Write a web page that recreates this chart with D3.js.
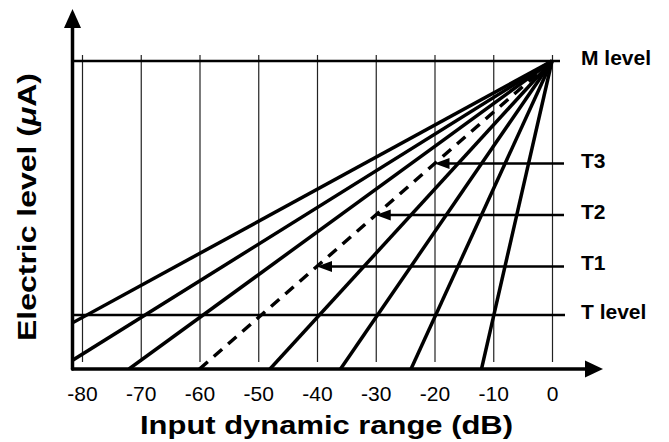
<!DOCTYPE html>
<html>
<head>
<meta charset="utf-8">
<script src="https://cdn.jsdelivr.net/npm/d3@7"></script>
<style>
  body { margin: 0; background: #fff; }
  text { font-family: "Liberation Sans", Arial, Helvetica, sans-serif; }
</style>
</head>
<body>
<svg id="chart" width="669" height="442"></svg>
<script>
// input levels on the x axis (dB)
const xTicks = [-80, -70, -60, -50, -40, -30, -20, -10, 0];
// input dynamic range of each mapping line (dB), from 0 dB down
const dynamicRanges = [12, 24, 36, 48, 60, 72, 84, 96];
const dashedRange = 60;
// electric levels, in % of M level
const mLevel = 100;
const tLevel = 17.5;
const thresholdNames = ["T1", "T2", "T3"];
const thresholdInputs = [-40, -30, -20];
const thresholdLevels = [33.3, 50, 66.7];

const axisLeft = 72.5;   // where the y axis sits
const axisBase = 369;    // where the x axis sits
const labelX = 581;

const svg = d3.select("#chart");

const x = d3.scaleLinear()
  .domain([-80, 0])
  .range([82, 552]);

const y = d3.scaleLinear()
  .domain([0, mLevel])
  .range([axisBase, 61]);

// vertical grid + tick labels (plain hyphen, like the original)
const xAxis = d3.axisBottom(x)
  .tickValues(xTicks)
  .tickFormat(d => String(d))
  .tickSize(-(362 - 55))
  .tickPadding(24);

const gx = svg.append("g")
  .attr("transform", "translate(0,362)")
  .call(xAxis);
gx.select(".domain").remove();
gx.selectAll(".tick line").attr("stroke", "#222").attr("stroke-width", 1.2);
gx.selectAll(".tick text")
  .attr("fill", "#000")
  .style("font-family", "'Liberation Sans', Arial, sans-serif")
  .style("font-size", "21px");

// M level and T level lines
svg.append("line")
  .attr("x1", axisLeft).attr("x2", 560)
  .attr("y1", y(mLevel)).attr("y2", y(mLevel))
  .attr("stroke", "#000").attr("stroke-width", 2.5);

svg.append("line")
  .attr("x1", axisLeft).attr("x2", 565)
  .attr("y1", y(tLevel)).attr("y2", y(tLevel))
  .attr("stroke", "#000").attr("stroke-width", 2.5);

// fan of mapping lines, clipped to the axes
svg.append("clipPath")
  .attr("id", "plot-clip")
  .append("rect")
  .attr("x", axisLeft).attr("y", 0)
  .attr("width", 560 - axisLeft).attr("height", axisBase);

svg.append("g")
  .attr("clip-path", "url(#plot-clip)")
  .selectAll("line")
  .data(dynamicRanges)
  .enter()
  .append("line")
  .attr("x1", d => x(-d))
  .attr("y1", y(0))
  .attr("x2", x(0))
  .attr("y2", y(mLevel))
  .attr("stroke", "#000")
  .attr("stroke-width", 3.5)
  .attr("stroke-dasharray", d => d === dashedRange ? "11,8" : null);

// threshold arrows pointing onto the dashed line
const arrows = svg.append("g");
thresholdNames.forEach((name, i) => {
  const tx = x(thresholdInputs[i]);
  const ty = y(thresholdLevels[i]);
  arrows.append("line")
    .attr("x1", tx + 12).attr("x2", 564)
    .attr("y1", ty).attr("y2", ty)
    .attr("stroke", "#000").attr("stroke-width", 2.5);
  arrows.append("path")
    .attr("d", `M${tx},${ty}L${tx + 15},${ty - 5.5}L${tx + 15},${ty + 5.5}Z`)
    .attr("fill", "#000");
  svg.append("text")
    .attr("x", labelX).attr("y", ty + 4)
    .style("font-size", "21px").style("font-weight", "bold")
    .text(name);
});

svg.append("text")
  .attr("x", labelX).attr("y", y(mLevel) + 4)
  .style("font-size", "21px").style("font-weight", "bold")
  .text("M level");

svg.append("text")
  .attr("x", labelX).attr("y", y(tLevel) + 4)
  .style("font-size", "21px").style("font-weight", "bold")
  .text("T level");

// axes with arrow heads
svg.append("line")
  .attr("x1", axisLeft).attr("x2", axisLeft)
  .attr("y1", axisBase).attr("y2", 24)
  .attr("stroke", "#000").attr("stroke-width", 3.5)
  .attr("stroke-linecap", "round");
svg.append("path")
  .attr("d", `M${axisLeft},9L${axisLeft - 8.5},28L${axisLeft + 8.5},28Z`)
  .attr("fill", "#000");

svg.append("line")
  .attr("x1", axisLeft).attr("x2", 588)
  .attr("y1", axisBase).attr("y2", axisBase)
  .attr("stroke", "#000").attr("stroke-width", 3.5)
  .attr("stroke-linecap", "round");
svg.append("path")
  .attr("d", `M603,${axisBase}L585,${axisBase - 8.5}L585,${axisBase + 8.5}Z`)
  .attr("fill", "#000");

// axis titles
svg.append("text")
  .attr("x", 326.5).attr("y", 434)
  .attr("text-anchor", "middle")
  .attr("textLength", 373)
  .attr("lengthAdjust", "spacingAndGlyphs")
  .style("font-size", "25px").style("font-weight", "bold")
  .text("Input dynamic range (dB)");

const yTitle = svg.append("text")
  .attr("transform", "translate(36,207) rotate(-90)")
  .attr("text-anchor", "middle")
  .attr("textLength", 268)
  .attr("lengthAdjust", "spacingAndGlyphs")
  .style("font-size", "25px").style("font-weight", "bold");
yTitle.append("tspan").text("Electric level (");
yTitle.append("tspan").style("font-style", "italic").text("\u03bc");
yTitle.append("tspan").text("A)");
</script>
</body>
</html>
